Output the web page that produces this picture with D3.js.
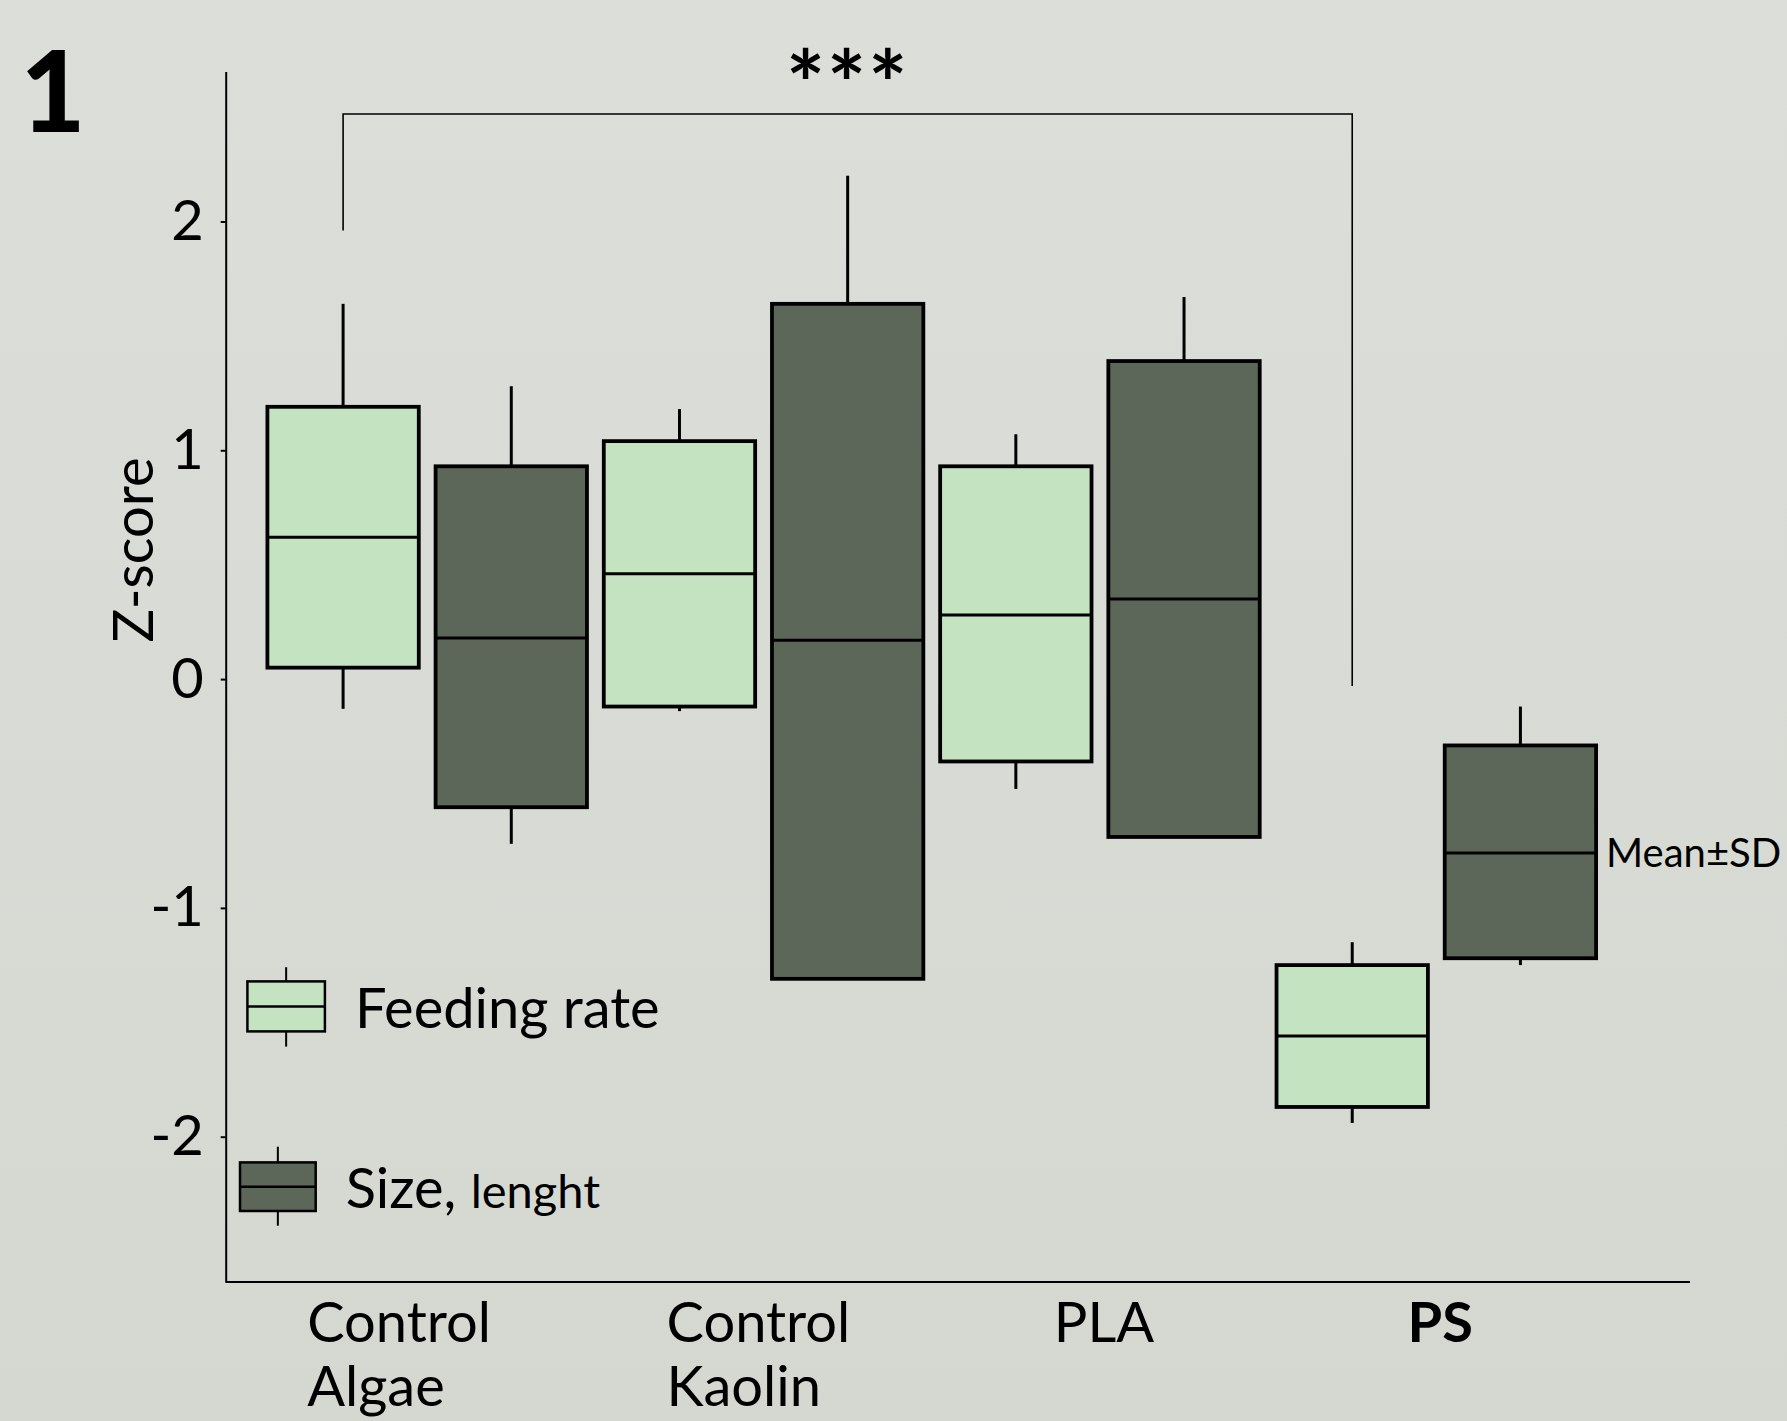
<!DOCTYPE html>
<html lang="en">
<head>
<meta charset="utf-8">
<title>Z-score boxes</title>
<script src="https://d3js.org/d3.v7.min.js"></script>
<style>
  body { margin: 0; background: #d9dcd5; }
  text { font-family: Lato, "Open Sans", sans-serif; fill: #000; }
</style>
</head>
<body>
<div id="chart"></div>
<script>
// chart values
const groups = ["Control Algae", "Control Kaolin", "PLA", "PS"];
const groupLabels = [["Control", "Algae"], ["Control", "Kaolin"], ["PLA"], ["PS"]];
const series = ["feeding", "size"];
const seriesNames = ["Feeding rate", "Size, lenght"];

// Feeding rate: mean, box (mean±SD) and whisker ends
const feedMean = [0.62, 0.46, 0.28, -1.56];
const feedLow = [0.05, -0.12, -0.36, -1.87];
const feedHigh = [1.19, 1.04, 0.93, -1.25];
const feedWhiskLow = [-0.13, -0.14, -0.48, -1.94];
const feedWhiskHigh = [1.64, 1.18, 1.07, -1.15];

// Size, lenght
const sizeMean = [0.18, 0.17, 0.35, -0.76];
const sizeLow = [-0.56, -1.31, -0.69, -1.22];
const sizeHigh = [0.93, 1.64, 1.39, -0.29];
const sizeWhiskLow = [-0.72, null, null, -1.25];
const sizeWhiskHigh = [1.28, 2.20, 1.67, -0.12];

const yTicks = [-2, -1, 0, 1, 2];

// significance bracket: Control Algae feeding vs PS feeding
const sigFrom = 1.96, sigTo = -0.03, sigTop = 2.47;

const width = 1787, height = 1421;
const lightFill = "#c4e3c1", darkFill = "#5c6759";

const svg = d3.select("#chart").append("svg")
  .attr("width", width).attr("height", height);

const grad = svg.append("defs").append("linearGradient")
  .attr("id", "bg").attr("x1", 0).attr("y1", 0).attr("x2", 0).attr("y2", 1);
grad.append("stop").attr("offset", "0%").attr("stop-color", "#dcdfd9");
grad.append("stop").attr("offset", "100%").attr("stop-color", "#d5d8d1");
svg.append("rect").attr("width", width).attr("height", height).attr("fill", "url(#bg)");

// scales
const y = d3.scaleLinear().domain([-2.635, 2.655]).range([1282, 71.6]);
const x0 = d3.scaleBand().domain(groups).range([259, 1604.5]).padding(0);
const x1 = d3.scaleBand().domain(series).range([0, x0.bandwidth()])
  .paddingInner(0.1).paddingOuter(0.05);

// build rows for drawing
const rows = [];
groups.forEach((g, i) => {
  rows.push({ g, s: "feeding", mean: feedMean[i], lo: feedLow[i], hi: feedHigh[i],
              wlo: feedWhiskLow[i], whi: feedWhiskHigh[i], fill: lightFill });
  rows.push({ g, s: "size", mean: sizeMean[i], lo: sizeLow[i], hi: sizeHigh[i],
              wlo: sizeWhiskLow[i], whi: sizeWhiskHigh[i], fill: darkFill });
});
const cx = d => x0(d.g) + x1(d.s) + x1.bandwidth() / 2;

// y axis
const yAxis = svg.append("g")
  .attr("transform", "translate(225.7,0)")
  .call(d3.axisLeft(y).tickValues(yTicks).tickFormat(d3.format("d"))
        .tickSize(5).tickSizeOuter(0).tickPadding(17));
yAxis.select(".domain").attr("stroke", "#000").attr("stroke-width", 2);
yAxis.selectAll(".tick line").attr("stroke", "#000").attr("stroke-width", 2);
yAxis.selectAll(".tick text").attr("font-size", 56).attr("font-family", "Lato").attr("fill", "#000")
  .text(d => d < 0 ? "-" + Math.abs(d) : d);

// x axis line
svg.append("line").attr("x1", 225.7).attr("x2", 1690).attr("y1", 1282).attr("y2", 1282)
  .attr("stroke", "#000").attr("stroke-width", 2);

// whiskers
const wg = svg.append("g").attr("stroke", "#000").attr("stroke-width", 3);
wg.selectAll(".whi").data(rows.filter(d => d.whi != null)).join("line")
  .attr("x1", cx).attr("x2", cx).attr("y1", d => y(d.hi)).attr("y2", d => y(d.whi));
wg.selectAll(".wlo").data(rows.filter(d => d.wlo != null)).join("line")
  .attr("class", "wlo")
  .attr("x1", cx).attr("x2", cx).attr("y1", d => y(d.lo)).attr("y2", d => y(d.wlo));

// boxes
const bg = svg.append("g");
bg.selectAll("rect").data(rows).join("rect")
  .attr("x", d => x0(d.g) + x1(d.s))
  .attr("width", x1.bandwidth())
  .attr("y", d => y(d.hi))
  .attr("height", d => y(d.lo) - y(d.hi))
  .attr("fill", d => d.fill).attr("stroke", "#000").attr("stroke-width", 3.8);
bg.selectAll("line").data(rows).join("line")
  .attr("x1", d => x0(d.g) + x1(d.s)).attr("x2", d => x0(d.g) + x1(d.s) + x1.bandwidth())
  .attr("y1", d => y(d.mean)).attr("y2", d => y(d.mean))
  .attr("stroke", "#000").attr("stroke-width", 3);

// x labels
const labelShift = { "Control Algae": -120, "Control Kaolin": -97 };
groupLabels.forEach((lines, i) => {
  const g = groups[i];
  const c = x0(g) + x0.bandwidth() / 2;
  const t = svg.append("text").attr("font-size", 56)
    .attr("font-weight", g === "PS" ? 700 : 400);
  if (lines.length > 1) {
    t.attr("text-anchor", "start");
    lines.forEach((l, k) => t.append("tspan").attr("x", c + labelShift[g])
      .attr("y", 1342 + k * 64).text(l));
  } else {
    t.attr("text-anchor", "middle").attr("x", c + 4).attr("y", 1342).text(lines[0]);
  }
});

// y title
svg.append("text").attr("transform", "translate(153,550) rotate(-90)")
  .attr("text-anchor", "middle").attr("font-size", 56).text("Z-score");

// panel number
svg.append("text").attr("x", 53).attr("y", 132).attr("text-anchor", "middle")
  .attr("font-size", 112).attr("font-weight", 900).text("1");

// significance bracket
const bx1 = cx(rows[0]), bx2 = cx(rows[6]);
svg.append("path")
  .attr("d", `M${bx1},${y(sigFrom)}V${y(sigTop)}H${bx2}V${y(sigTo)}`)
  .attr("fill", "none").attr("stroke", "#000").attr("stroke-width", 1.6);
svg.append("text").attr("x", (bx1 + bx2) / 2).attr("y", 118)
  .attr("text-anchor", "middle").attr("font-size", 92).attr("font-weight", 700)
  .attr("letter-spacing", 2).text("***");

// Mean±SD note beside PS size box
const psSize = rows[7];
svg.append("text").attr("x", x0("PS") + x1("size") + x1.bandwidth() + 10)
  .attr("y", y(psSize.mean)).attr("dy", "0.35em").attr("font-size", 40).text("Mean±SD");

// legend
const legend = [
  { name: seriesNames[0], fill: lightFill, x: 247.4, y: 981.4, w: 77.5, h: 50, wTop: 967.2, wBot: 1046.6 },
  { name: seriesNames[1], fill: darkFill, x: 240, y: 1162.4, w: 75.7, h: 48.6, wTop: 1146.7, wBot: 1225.7 }
];
legend.forEach((l, i) => {
  const g = svg.append("g");
  const mx = l.x + l.w / 2;
  g.append("line").attr("x1", mx).attr("x2", mx).attr("y1", l.wTop).attr("y2", l.wBot)
    .attr("stroke", "#000").attr("stroke-width", 2);
  g.append("rect").attr("x", l.x).attr("y", l.y).attr("width", l.w).attr("height", l.h)
    .attr("fill", l.fill).attr("stroke", "#000").attr("stroke-width", 2.5);
  g.append("line").attr("x1", l.x).attr("x2", l.x + l.w)
    .attr("y1", l.y + l.h / 2).attr("y2", l.y + l.h / 2)
    .attr("stroke", "#000").attr("stroke-width", 2.5);
  const t = g.append("text").attr("x", l.x + l.w + 30).attr("y", l.y + l.h - 3).attr("font-size", 56);
  if (i === 0) t.text(l.name);
  else {
    const parts = l.name.split(" ");
    t.append("tspan").text(parts[0] + " ");
    t.append("tspan").attr("font-size", 47).text(parts[1]);
  }
});
</script>
</body>
</html>
